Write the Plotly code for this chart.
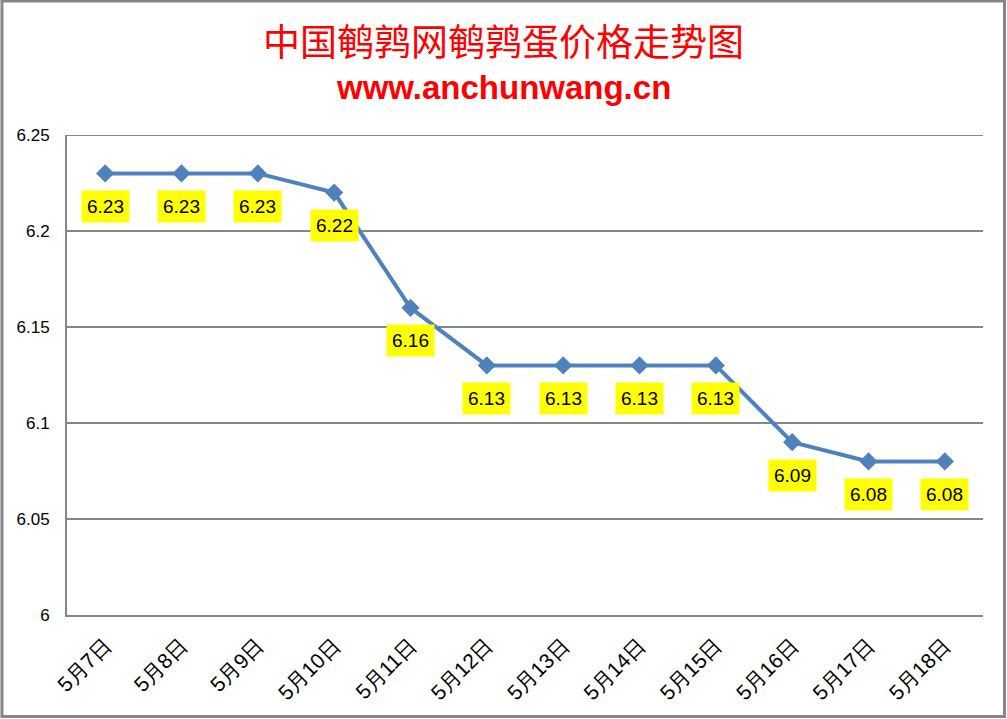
import plotly.graph_objects as go

categories = ["5月7日", "5月8日", "5月9日", "5月10日", "5月11日", "5月12日",
              "5月13日", "5月14日", "5月15日", "5月16日", "5月17日", "5月18日"]
prices = [6.23, 6.23, 6.23, 6.22, 6.16, 6.13, 6.13, 6.13, 6.13, 6.09, 6.08, 6.08]
y_ticks = [6, 6.05, 6.1, 6.15, 6.2, 6.25]
y_tick_text = ["6", "6.05", "6.1", "6.15", "6.2", "6.25"]

fig = go.Figure()
fig.add_trace(go.Scatter(
    x=categories, y=prices, mode="lines+markers",
    line=dict(color="#4F81BD", width=4),
    marker=dict(symbol="diamond", size=14, color="#4F81BD"),
    hoverinfo="skip", showlegend=False,
))

for c, v in zip(categories, prices):
    fig.add_annotation(
        x=c, y=v, text=f"{v:.2f}", showarrow=False, yshift=-33,
        bgcolor="#FFFF00", borderpad=5,
        font=dict(family="Liberation Sans, Arial", size=19, color="black"),
    )

# Title lines
fig.add_annotation(
    xref="paper", yref="paper", x=0.476, y=1.198, xanchor="center", yanchor="middle",
    text="中国鹌鹑网鹌鹑蛋价格走势图",
    showarrow=False, font=dict(family="Noto Sans CJK SC", size=37, color="#FF0000"),
)
fig.add_annotation(
    xref="paper", yref="paper", x=0.476, y=1.0998, xanchor="center", yanchor="middle",
    text="<b>www.anchunwang.cn</b>",
    showarrow=False, font=dict(family="Liberation Sans, Arial", size=33, color="#FF0000"),
)

# Top gridline at the range edge
fig.add_shape(type="line", xref="paper", yref="y", x0=0, x1=1, y0=6.25, y1=6.25,
              line=dict(color="#868686", width=2), layer="below")

# Outer border
fig.add_shape(type="rect", xref="paper", yref="paper",
              x0=-0.071, x1=1.0235, y0=-0.2115, y1=1.279,
              line=dict(color="#868686", width=3), layer="above")

fig.update_layout(
    width=1007, height=719,
    margin=dict(l=67, r=24, t=135, b=104),
    paper_bgcolor="white", plot_bgcolor="white",
    xaxis=dict(
        type="category", range=[-0.5, 11.5], tickangle=-45,
        showgrid=False, showline=True, linecolor="#868686", linewidth=2,
        ticks="", ticklabelstandoff=8,
        tickfont=dict(family="Liberation Sans, Arial", size=21, color="black"),
    ),
    yaxis=dict(
        range=[6, 6.25], tickvals=y_ticks, ticktext=y_tick_text,
        showgrid=True, gridcolor="#868686", gridwidth=1.5,
        showline=True, linecolor="#868686", linewidth=2,
        zeroline=False, ticks="", ticklabelstandoff=12,
        tickfont=dict(family="Liberation Sans, Arial", size=17, color="black"),
    ),
)

fig.write_html("out.html", config={"displayModeBar": False})

with open("out.html", encoding="utf-8") as f:
    html = f.read()
html = html.replace("<head>", "<head><style>html,body{margin:0;padding:0;overflow:hidden;}</style>", 1)
with open("out.html", "w", encoding="utf-8") as f:
    f.write(html)
